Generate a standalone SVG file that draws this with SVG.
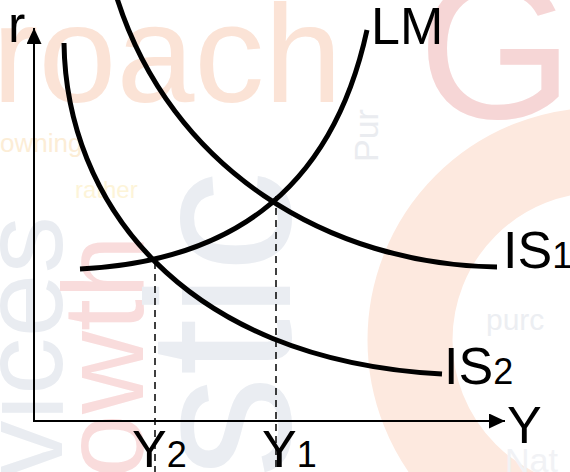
<svg xmlns="http://www.w3.org/2000/svg" width="570" height="472" viewBox="0 0 570 472">
  <defs>
    <style>
      .bg { font-family: "Liberation Sans", Arial, sans-serif; }
      .lbl { font-family: "Liberation Sans", Arial, sans-serif; font-size: 52px; fill: #000; }
      .sub { font-size: 36px; }
      .curve { fill: none; stroke: #000; stroke-width: 5; stroke-linecap: butt; }
      .axis { fill: none; stroke: #000; stroke-width: 2; }
      .dash { fill: none; stroke: #000; stroke-width: 1.5; stroke-dasharray: 7 5; }
    </style>
    <marker id="arrow" viewBox="0 0 16 15" refX="16" refY="7.5" markerWidth="16" markerHeight="15" markerUnits="userSpaceOnUse" orient="auto">
      <path d="M0,0 L16,7.5 L0,15 Z" fill="#000"/>
    </marker>
  </defs>
  <rect width="570" height="472" fill="#fff"/>
  <g id="background">
    <path d="M 600 150 A 190 190 0 0 0 600 530" fill="none" stroke="#fde9df" stroke-width="85"/>
    <text class="bg" x="418" y="118" font-size="200" fill="#f6d6d6">G</text>
    <text class="bg" x="-8" y="102" font-size="140" fill="#fbe3d6">roach</text>
    <text class="bg" x="0" y="152" font-size="26" fill="#fcedd6">owning</text>
    <text class="bg" x="75" y="198" font-size="24" fill="#fdf4d8">rather</text>
    <text class="bg" x="486" y="330" font-size="30" fill="#eceef2">purc</text>
    <text class="bg" x="505" y="472" font-size="34" fill="#f1f2f5">Nat</text>
    <text class="bg" transform="translate(378,162) rotate(-90)" font-size="34" fill="#eaecf0">Pur</text>
    <text class="bg" transform="translate(62,478) rotate(-90)" font-size="115" fill="#e9ecf1">vices</text>
    <text class="bg" transform="translate(143,478) rotate(-90)" font-size="115" fill="#f9dcdc">owth</text>
    <text class="bg" transform="translate(290,478) rotate(-90)" font-size="205" fill="#eaedf2">stic</text>
  </g>
  <g id="connectors">
    <line id="r-axis" class="axis" x1="34" y1="422" x2="34" y2="28" marker-end="url(#arrow)"/>
    <line id="y-axis" class="axis" x1="33" y1="421" x2="505" y2="421" marker-end="url(#arrow)"/>
    <line id="dash-y2" class="dash" x1="155" y1="262" x2="155" y2="472"/>
    <line id="dash-y1" class="dash" x1="276" y1="196" x2="276" y2="472"/>
  </g>
  <g id="LM">
    <path class="curve" d="M80,269 C220,262 330,200 367,30"/>
    <text class="lbl" x="371" y="44">LM</text>
  </g>
  <g id="IS1">
    <path class="curve" d="M116,-5 C170,170 330,265 497,267"/>
    <text class="lbl" x="503" y="268">IS<tspan class="sub">1</tspan></text>
  </g>
  <g id="IS2">
    <path class="curve" d="M64,43 C66,200 180,360 442,374"/>
    <text class="lbl" x="444" y="384">IS<tspan class="sub">2</tspan></text>
  </g>
  <g id="labels">
    <text class="lbl" x="8" y="42">r</text>
    <text class="lbl" x="507" y="443">Y</text>
    <text class="lbl" x="132" y="467">Y<tspan class="sub">2</tspan></text>
    <text class="lbl" x="262" y="467">Y<tspan class="sub">1</tspan></text>
  </g>
</svg>
